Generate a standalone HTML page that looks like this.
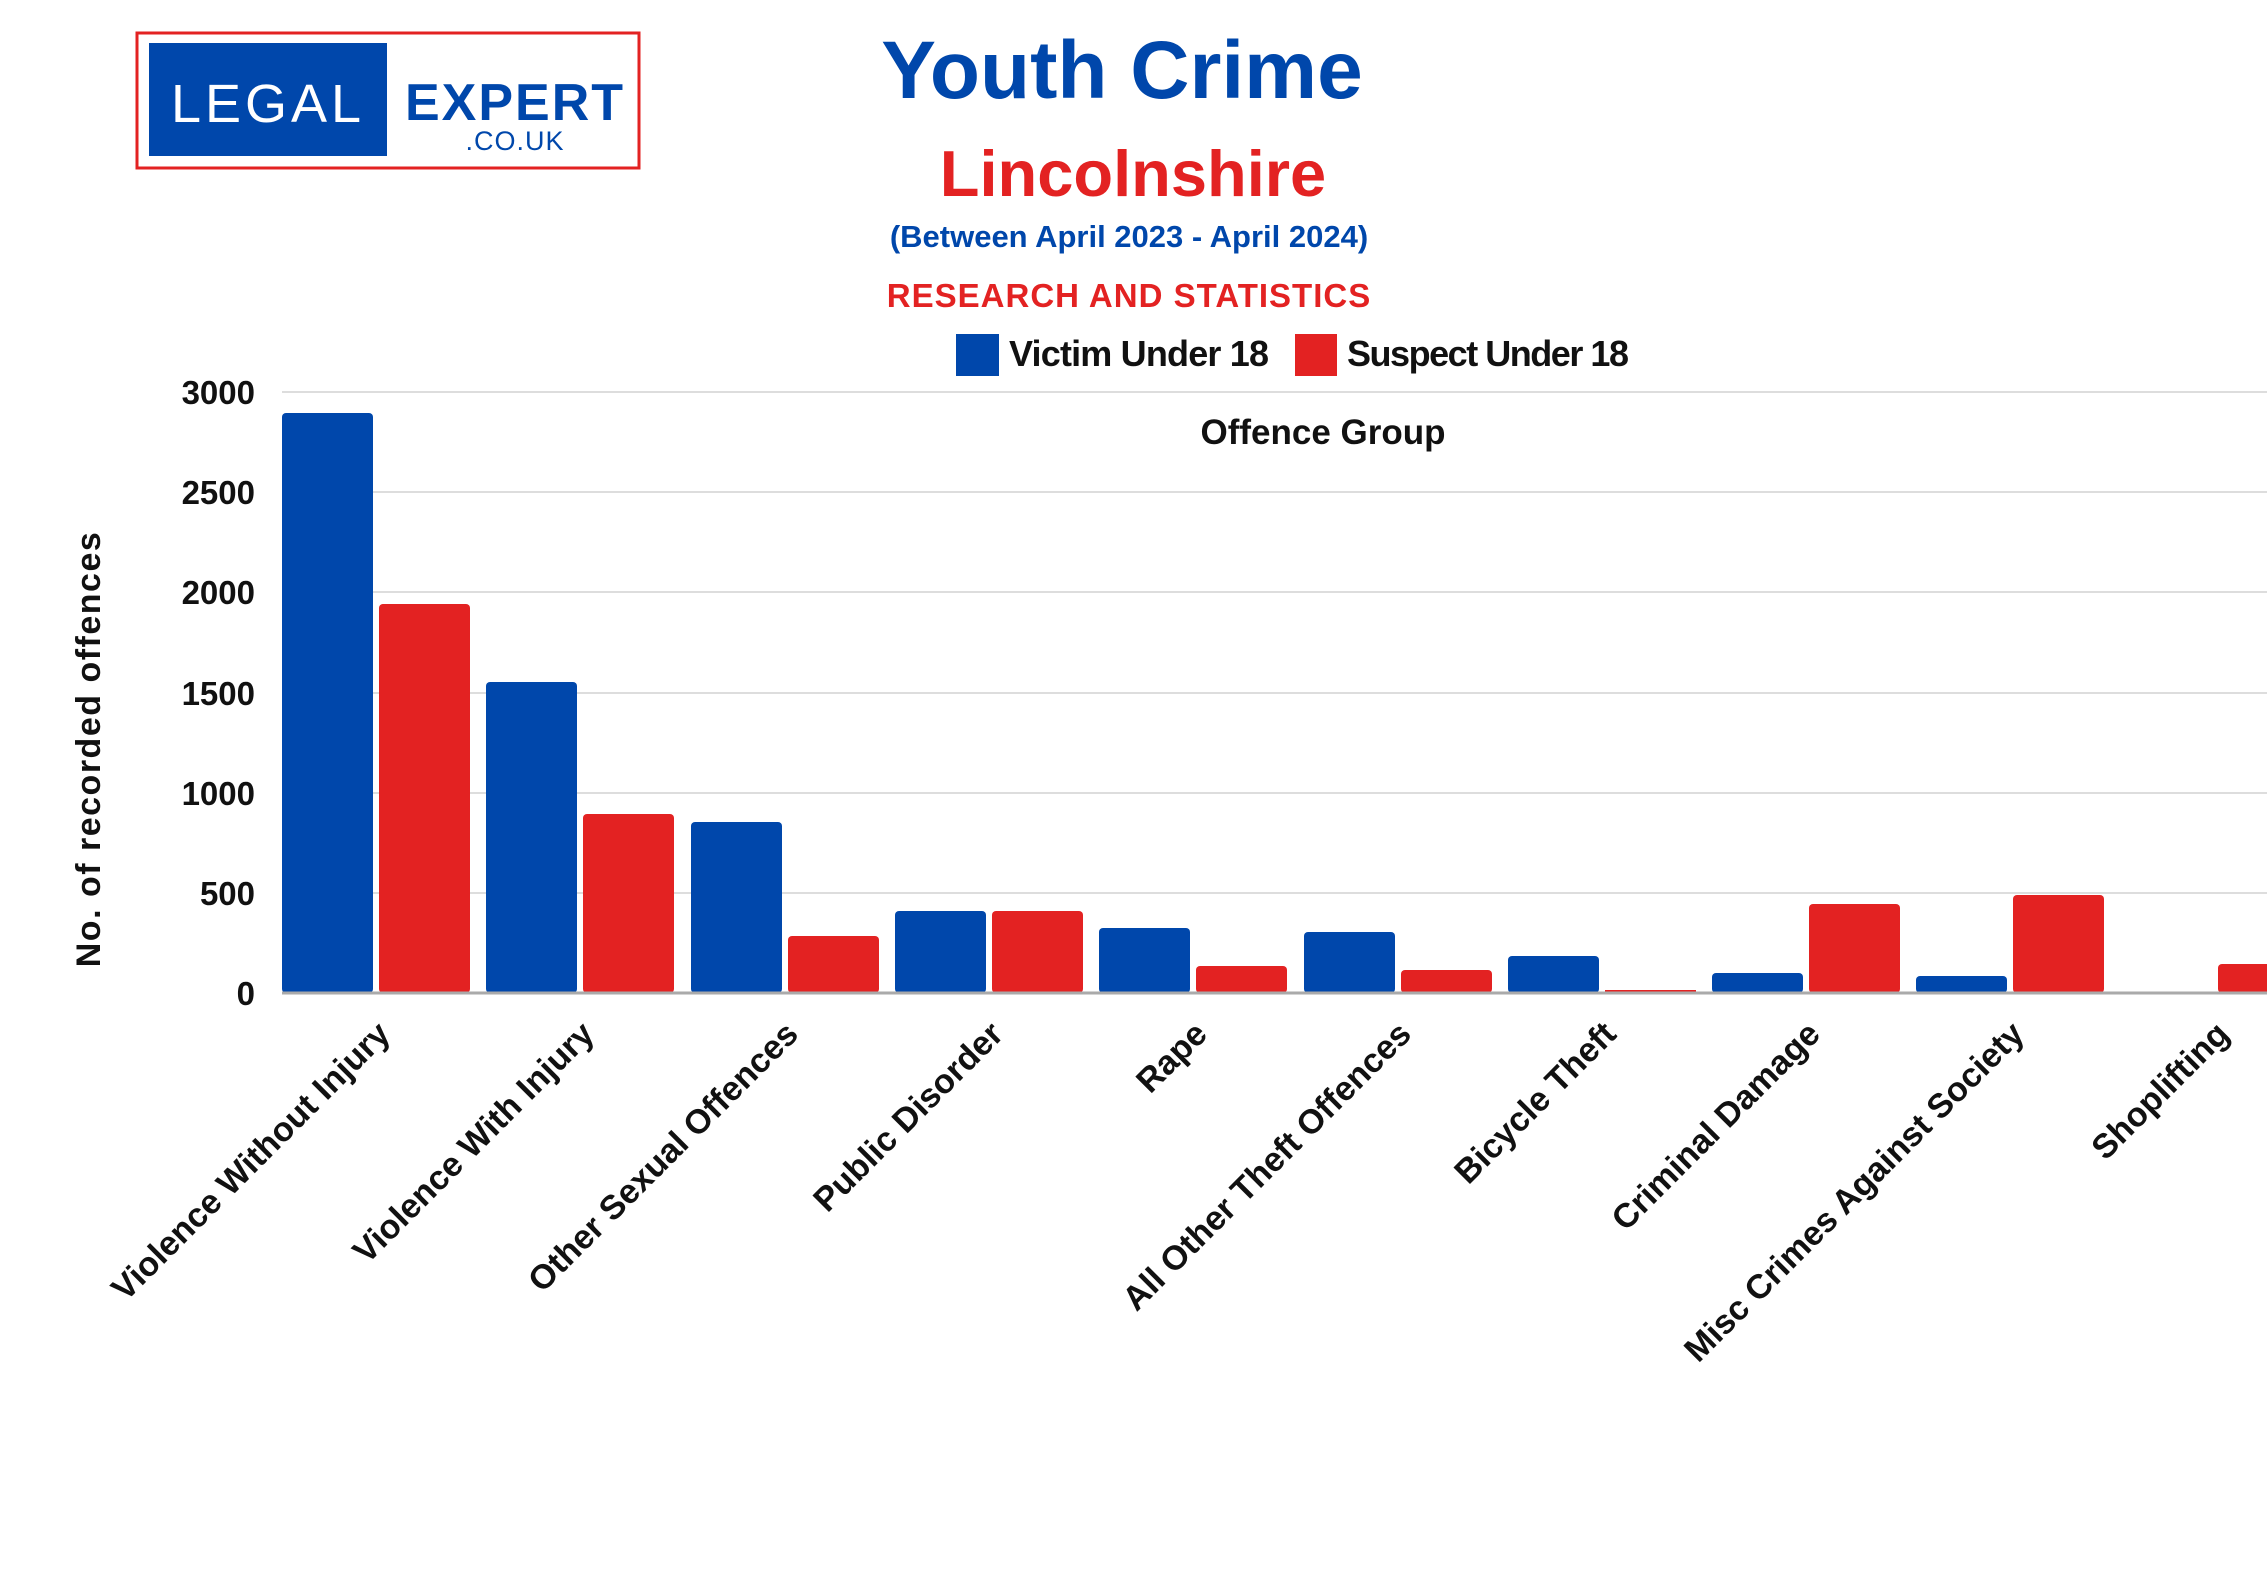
<!DOCTYPE html>
<html><head><meta charset="utf-8"><style>
html,body{margin:0;padding:0;background:#fff;}
svg{display:block;}
</style></head><body>
<svg width="2267" height="1587" viewBox="0 0 2267 1587" xmlns="http://www.w3.org/2000/svg" font-family="'Liberation Sans', sans-serif">
<rect width="2267" height="1587" fill="#fff"/>
<!-- logo -->
<rect x="137" y="33" width="502" height="135" fill="#fff" stroke="#e32222" stroke-width="3"/>
<rect x="149" y="43" width="238" height="113" fill="#0047ab"/>
<text x="268" y="122" fill="#fff" font-size="54" text-anchor="middle" letter-spacing="4">LEGAL</text>
<text x="515" y="120" fill="#0047ab" font-size="52" font-weight="bold" text-anchor="middle" letter-spacing="2">EXPERT</text>
<text x="515" y="150" fill="#0047ab" font-size="27" text-anchor="middle" letter-spacing="1">.CO.UK</text>
<!-- titles -->
<text x="1122" y="98" fill="#0047ab" font-size="82" font-weight="bold" text-anchor="middle">Youth Crime</text>
<text x="1133" y="196" fill="#e32222" font-size="65" font-weight="bold" text-anchor="middle">Lincolnshire</text>
<text x="1129" y="247" fill="#0047ab" font-size="31" font-weight="bold" text-anchor="middle">(Between April 2023 - April 2024)</text>
<text x="1129" y="307" fill="#e32222" font-size="33" font-weight="bold" text-anchor="middle" letter-spacing="1">RESEARCH AND STATISTICS</text>
<!-- legend -->
<rect x="956" y="334" width="43" height="42" fill="#0047ab"/>
<text x="1009" y="366" font-size="36" font-weight="bold" fill="#111" textLength="260">Victim Under 18</text>
<rect x="1295" y="334" width="42" height="42" fill="#e32222"/>
<text x="1347" y="366" font-size="36" font-weight="bold" fill="#111" textLength="282">Suspect Under 18</text>
<!-- gridlines -->
<g stroke="#dddddd" stroke-width="2">
<line x1="282" y1="392" x2="2267" y2="392"/>
<line x1="282" y1="492" x2="2267" y2="492"/>
<line x1="282" y1="592" x2="2267" y2="592"/>
<line x1="282" y1="693" x2="2267" y2="693"/>
<line x1="282" y1="793" x2="2267" y2="793"/>
<line x1="282" y1="893" x2="2267" y2="893"/>
</g>
<text x="1323" y="444" font-size="35" font-weight="bold" fill="#111" text-anchor="middle">Offence Group</text>
<!-- y ticks -->
<g font-size="33" font-weight="bold" fill="#111" text-anchor="end">
<text x="255" y="404">3000</text>
<text x="255" y="504">2500</text>
<text x="255" y="604">2000</text>
<text x="255" y="705">1500</text>
<text x="255" y="805">1000</text>
<text x="255" y="905">500</text>
<text x="255" y="1005">0</text>
</g>
<text transform="translate(100,749) rotate(-90)" font-size="34" font-weight="bold" fill="#111" text-anchor="middle" letter-spacing="1.5">No. of recorded offences</text>
<!-- bars -->
<g fill="#0047ab">
<rect x="282" y="413" width="91" height="580" rx="4"/>
<rect x="486" y="682" width="91" height="311" rx="4"/>
<rect x="691" y="822" width="91" height="171" rx="4"/>
<rect x="895" y="911" width="91" height="82" rx="4"/>
<rect x="1099" y="928" width="91" height="65" rx="4"/>
<rect x="1304" y="932" width="91" height="61" rx="4"/>
<rect x="1508" y="956" width="91" height="37" rx="4"/>
<rect x="1712" y="973" width="91" height="20" rx="4"/>
<rect x="1916" y="976" width="91" height="17" rx="4"/>
</g>
<g fill="#e32222">
<rect x="379" y="604" width="91" height="389" rx="4"/>
<rect x="583" y="814" width="91" height="179" rx="4"/>
<rect x="788" y="936" width="91" height="57" rx="4"/>
<rect x="992" y="911" width="91" height="82" rx="4"/>
<rect x="1196" y="966" width="91" height="27" rx="4"/>
<rect x="1401" y="970" width="91" height="23" rx="4"/>
<rect x="1605" y="990" width="91" height="3"/>
<rect x="1809" y="904" width="91" height="89" rx="4"/>
<rect x="2013" y="895" width="91" height="98" rx="4"/>
<rect x="2218" y="964" width="91" height="29" rx="4"/>
</g>
<line x1="282" y1="993" x2="2267" y2="993" stroke="#aaaaaa" stroke-width="3"/>
<!-- x labels -->
<g font-size="34" font-weight="bold" fill="#111" text-anchor="end">
<text transform="translate(392,1036) rotate(-45)">Violence Without Injury</text>
<text transform="translate(596,1036) rotate(-45)">Violence With Injury</text>
<text transform="translate(800,1036) rotate(-45)">Other Sexual Offences</text>
<text transform="translate(1005,1036) rotate(-45)">Public Disorder</text>
<text transform="translate(1209,1036) rotate(-45)">Rape</text>
<text transform="translate(1413,1036) rotate(-45)">All Other Theft Offences</text>
<text transform="translate(1618,1036) rotate(-45)">Bicycle Theft</text>
<text transform="translate(1822,1036) rotate(-45)">Criminal Damage</text>
<text transform="translate(2026,1036) rotate(-45)">Misc Crimes Against Society</text>
<text transform="translate(2231,1036) rotate(-45)">Shoplifting</text>
</g>
</svg>
</body></html>
